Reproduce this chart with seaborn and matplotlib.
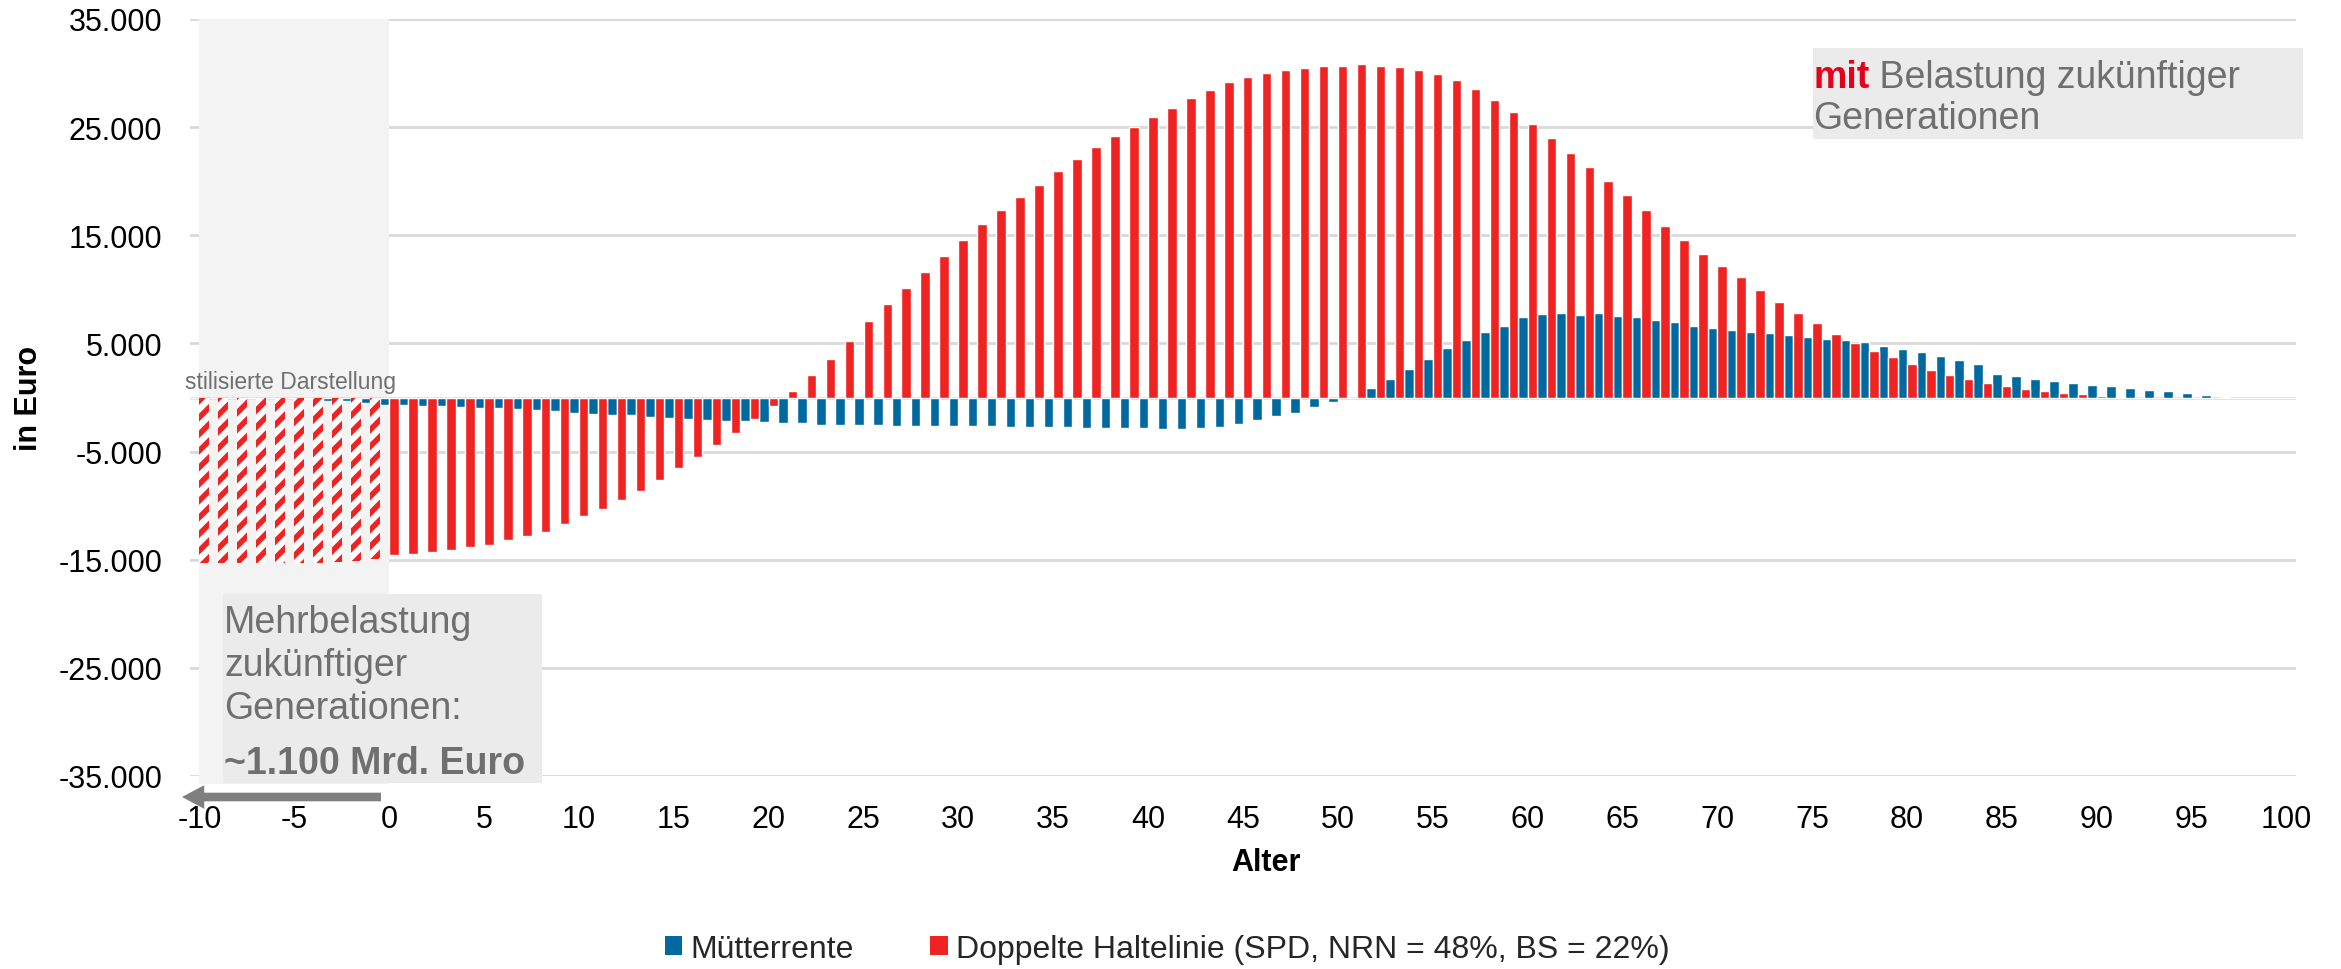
import pandas as pd
import matplotlib.pyplot as plt
import seaborn as sns
from matplotlib.patches import Rectangle, Patch

# Alter -10 .. 100 (negative Alter = zukünftige Generationen, stilisiert)
ages = list(range(-10, 101))

muetterrente = [
    0, 0, 0, 0, 0, 0, -150, -300, -350, -550,
    -650, -700, -800, -800, -900, -950, -1000, -1100, -1200, -1250,
    -1400, -1500, -1600, -1650, -1800, -1900, -2000, -2050, -2150, -2200,
    -2300, -2400, -2400, -2500, -2500, -2500, -2500, -2600, -2600, -2600,
    -2650, -2650, -2650, -2700, -2700, -2750, -2750, -2800, -2850, -2850,
    -2850, -2950, -2950, -2850, -2700, -2450, -2050, -1700, -1400, -900,
    -400, 0, 900, 1750, 2600, 3600, 4600, 5300, 6100, 6600,
    7400, 7700, 7800, 7600, 7800, 7500, 7400, 7200, 7000, 6600,
    6400, 6250, 6100, 6000, 5800, 5600, 5450, 5350, 5100, 4800,
    4450, 4200, 3800, 3450, 3100, 2200, 1950, 1700, 1500, 1350,
    1200, 1050, 870, 720, 580, 420, 250, 80, 0, 0,
    0,
]

haltelinie = [
    -15300, -15300, -15300, -15300, -15300, -15300, -15300, -15200, -15100, -14900,
    -14600, -14500, -14300, -14100, -13800, -13600, -13200, -12800, -12400, -11700,
    -11000, -10300, -9500, -8600, -7600, -6500, -5500, -4400, -3300, -2000,
    -800, 600, 2100, 3600, 5200, 7070, 8670, 10100, 11600, 13100,
    14600, 16000, 17300, 18500, 19650, 20900, 22100, 23200, 24200, 25050,
    25950, 26750, 27650, 28400, 29200, 29650, 30000, 30250, 30450, 30650,
    30700, 30800, 30700, 30550, 30300, 29900, 29350, 28500, 27500, 26400,
    25250, 23950, 22650, 21350, 20050, 18700, 17300, 15900, 14600, 13300,
    12200, 11100, 9950, 8850, 7800, 6850, 5900, 5050, 4300, 3700,
    3100, 2500, 2100, 1700, 1300, 1050, 800, 580, 420, 320,
    140, 30, 0, 0, 0, -50, -50, -50, 0, 0,
    0,
]

series_names = ["Mütterrente", "Doppelte Haltelinie (SPD, NRN = 48%, BS = 22%)"]
colors = ["#0069a0", "#ee2322"]
ytick_values = [-35000, -25000, -15000, -5000, 5000, 15000, 25000, 35000]
xtick_ages = list(range(-10, 101, 5))
n_stylized = 10  # ages -10..-1 drawn hatched

df = pd.DataFrame({
    "Alter": ages * 2,
    "Wert": muetterrente + haltelinie,
    "Reihe": [series_names[0]] * len(ages) + [series_names[1]] * len(ages),
})

sns.set_theme(style="white")
plt.rcParams["font.family"] = ["Liberation Sans", "DejaVu Sans"]
plt.rcParams["hatch.linewidth"] = 4.0

W, H = 2341, 970
def fx(p):
    return p / W
def fy(p):
    return 1 - p / H

fig, ax = plt.subplots(figsize=(W / 100, H / 100), dpi=100)
fig.subplots_adjust(left=fx(190), right=fx(2296), top=fy(20), bottom=fy(777))

sns.barplot(data=df, x="Alter", y="Wert", hue="Reihe", order=ages,
            hue_order=series_names, palette=colors, saturation=1, width=1.0,
            edgecolor="white", linewidth=1.0, errorbar=None, legend=False,
            ax=ax, zorder=2)

# stylized (hatched) red bars for future generations
for bar in ax.containers[1][:n_stylized]:
    bar.set_facecolor("white")
    bar.set_edgecolor(colors[1])
    bar.set_linewidth(0)
    bar.set_hatch("//")

ax.set_xlim(-0.5, len(ages) - 0.5)
ax.set_ylim(-35000, 35000)
ax.set_yticks(ytick_values)
ax.set_yticklabels([f"{v:,}".replace(",", ".") for v in ytick_values])
ax.set_xticks([ages.index(a) for a in xtick_ages])
ax.set_xticklabels([str(a) for a in xtick_ages])
ax.tick_params(axis="x", length=0, labelsize=22, pad=20, colors="black")
ax.tick_params(axis="y", length=0, labelsize=22, pad=20, colors="black")
for s in ax.spines.values():
    s.set_visible(False)

ax.set_axisbelow(True)
ax.yaxis.grid(True, color="#d9d9d9", lw=2)
ax.xaxis.grid(False)
ax.axhline(0, color="#d9d9d9", lw=2, zorder=0.9)

# light band behind the stylized part
ax.add_patch(Rectangle((0, -35700), n_stylized, 70700, facecolor="#f3f3f3",
                       edgecolor="none", zorder=0.8, clip_on=False))
ax.text(4.8, 1500, "stilisierte Darstellung", ha="center", va="center",
        fontsize=16.5, color="#6f6f6f", zorder=3)

ax.set_xlabel("Alter", fontsize=22, fontweight="bold", color="black")
ax.xaxis.set_label_coords((1266 - 190) / 2106, (777 - 848) / 757)
ax.set_ylabel("in Euro", fontsize=22, fontweight="bold", color="black")
ax.yaxis.set_label_coords((44 - 190) / 2106, 0.5)

gray = "#6f6f6f"
tf = fig.transFigure
# left annotation box
ax.add_patch(Rectangle((fx(223), fy(784)), fx(542) - fx(223), (784 - 595) / H,
                       transform=tf, facecolor="#ebebeb", edgecolor="none",
                       zorder=3, clip_on=False))
for txt, base in [("Mehrbelastung", 633), ("zukünftiger", 676), ("Generationen:", 719)]:
    ax.text(fx(224), fy(base), txt, transform=tf, va="baseline", ha="left",
            fontsize=27, color=gray, zorder=4)
ax.text(fx(224), fy(774), "~1.100 Mrd. Euro", transform=tf, va="baseline",
        ha="left", fontsize=27, fontweight="bold", color=gray, zorder=4)

# right annotation box
ax.add_patch(Rectangle((fx(1813), fy(140)), fx(2303) - fx(1813), (140 - 49) / H,
                       transform=tf, facecolor="#ebebeb", edgecolor="none",
                       zorder=3, clip_on=False))
t_mit = ax.text(fx(1813), fy(88), "mit", transform=tf, va="baseline", ha="left",
                fontsize=27, fontweight="bold", color="#e2001a", zorder=4)
ax.annotate(" Belastung zukünftiger", xy=(1, 0), xycoords=t_mit, va="bottom",
            ha="left", fontsize=27, color=gray, annotation_clip=False, zorder=4)
ax.text(fx(1813), fy(129), "Generationen", transform=tf, va="baseline", ha="left",
        fontsize=27, color=gray, zorder=4)

# arrow below the axis pointing to the future generations
ax.annotate("", xy=(fx(182), fy(798)), xycoords="figure fraction",
            xytext=(fx(381), fy(798)), textcoords="figure fraction",
            arrowprops=dict(arrowstyle="simple,head_length=1.6,head_width=1.7,tail_width=0.62",
                            color="#7f7f7f", mutation_scale=10, shrinkA=0, shrinkB=0, lw=0),
            annotation_clip=False)

handles = [Patch(facecolor=c, edgecolor="none") for c in colors]
fig.legend(handles, series_names, loc="center", bbox_to_anchor=(fx(1167), fy(950)),
           ncol=2, frameon=False, fontsize=23, handlelength=0.55, handleheight=0.55,
           handletextpad=0.25, columnspacing=2.4, borderpad=0)

fig.savefig("out.png", dpi=100)
